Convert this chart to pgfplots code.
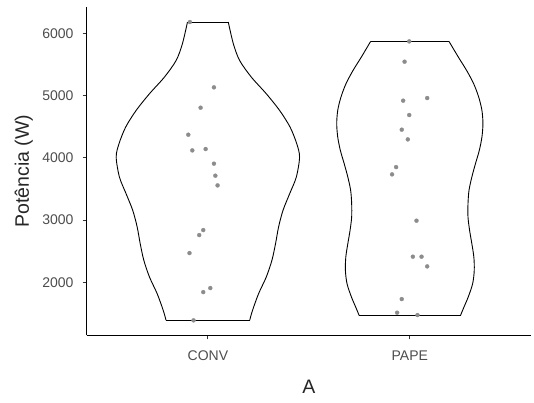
\documentclass[border=0pt]{standalone}
\usepackage{fontspec}
\setmainfont{Liberation Sans}
\usepackage{pgfplots}
\usepackage{pgfplotstable}
\pgfplotsset{compat=1.18}
\definecolor{ticktext}{HTML}{4D4D4D}
\definecolor{ptgray}{HTML}{8C8C8C}

\pgfplotstableread{
y hw
6182 0.101
5834 0.126
5566 0.157
5298 0.215
5031 0.289
4763 0.355
4495 0.407
4228 0.440
4013 0.454
3692 0.438
3425 0.405
3157 0.372
2888 0.350
2621 0.335
2353 0.317
2085 0.289
1818 0.251
1550 0.221
1390 0.207
}\convviolin

\pgfplotstableread{
y hw
5871 0.194
5620 0.240
5406 0.281
5192 0.316
4977 0.341
4763 0.357
4549 0.362
4334 0.357
4120 0.344
3907 0.325
3692 0.307
3478 0.293
3264 0.288
3049 0.288
2835 0.296
2622 0.307
2407 0.317
2193 0.319
1979 0.311
1764 0.289
1603 0.268
1470 0.251
}\papeviolin

\pgfplotstableread{
x y
0.911 6182
1.030 5133
0.964 4806
0.903 4372
0.923 4120
0.989 4142
1.030 3907
1.037 3714
1.048 3558
0.977 2840
0.957 2760
0.909 2471
1.012 1909
0.977 1844
0.929 1390
}\convpts

\pgfplotstableread{
x y
1.997 5871
1.974 5545
1.967 4919
2.086 4961
1.997 4688
1.960 4453
1.990 4297
1.932 3852
1.912 3735
2.033 2991
2.015 2413
2.058 2413
2.086 2257
1.960 1732
1.937 1513
2.038 1475
}\papepts

\begin{document}
\begin{tikzpicture}
\path[use as bounding box] (-86.7pt,-67.7pt) rectangle (447.3pt,335.3pt);
\begin{axis}[
  at={(0pt,0pt)}, anchor=south west,
  scale only axis, width=444.3pt, height=328.2pt,
  xmin=0.4, xmax=2.6, ymin=1150, ymax=6422,
  axis x line*=bottom, axis y line*=left,
  axis line style={-, black, line width=0.9pt},
  xtick={1,2}, xticklabels={CONV,PAPE},
  ytick={2000,3000,4000,5000,6000},
  tick align=outside, major tick length=4pt,
  tick style={black!80, line width=0.9pt},
  /pgf/number format/1000 sep={},
  /pgf/number format/assume math mode=true,
  ticklabel style={font=\fontsize{14}{16}\selectfont, text=ticktext},
  xticklabel style={anchor=north, inner sep=0pt, yshift=-11pt},
  yticklabel style={anchor=east, inner sep=0pt, xshift=-9pt},
  xlabel={A}, ylabel={Potência (W)},
  every axis x label/.style={at={(axis description cs:0.5,-0.1771)}, anchor=base, font=\fontsize{19.5}{22}\selectfont, text=black!85},
  every axis y label/.style={at={(axis description cs:-0.1299,0.5)}, anchor=base, rotate=90, font=\fontsize{19.5}{22}\selectfont, text=black!85},
  clip=false,
]
% CONV violin
\addplot[black, line width=0.9pt, smooth, tension=0.5] table[x expr={1-\thisrow{hw}}, y=y] {\convviolin};
\addplot[black, line width=0.9pt, smooth, tension=0.5] table[x expr={1+\thisrow{hw}}, y=y] {\convviolin};
\addplot[black, line width=0.9pt] coordinates {(0.899,6182) (1.101,6182)};
\addplot[black, line width=0.9pt] coordinates {(0.793,1390) (1.207,1390)};
% PAPE violin
\addplot[black, line width=0.9pt, smooth, tension=0.5] table[x expr={2-\thisrow{hw}}, y=y] {\papeviolin};
\addplot[black, line width=0.9pt, smooth, tension=0.5] table[x expr={2+\thisrow{hw}}, y=y] {\papeviolin};
\addplot[black, line width=0.9pt] coordinates {(1.806,5871) (2.194,5871)};
\addplot[black, line width=0.9pt] coordinates {(1.749,1470) (2.251,1470)};
% jittered points
\addplot[only marks, mark=*, mark size=2pt, mark options={draw=ptgray, fill=ptgray, line width=0.3pt}] table[x=x, y=y] {\convpts};
\addplot[only marks, mark=*, mark size=2pt, mark options={draw=ptgray, fill=ptgray, line width=0.3pt}] table[x=x, y=y] {\papepts};
\end{axis}
\end{tikzpicture}
\end{document}
